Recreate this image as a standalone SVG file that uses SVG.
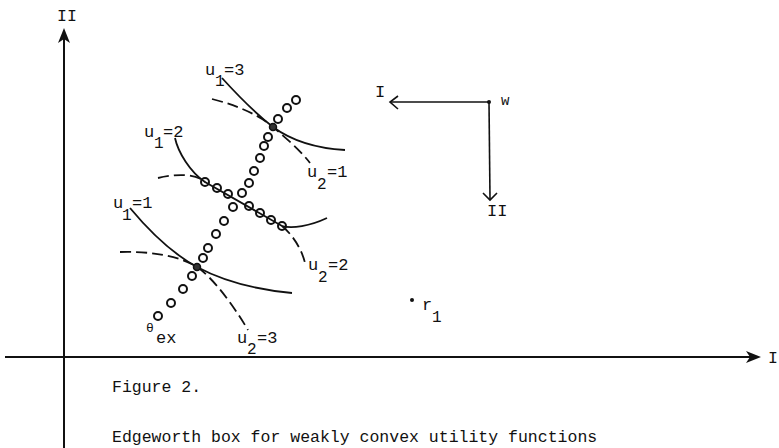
<svg xmlns="http://www.w3.org/2000/svg" width="779" height="448" viewBox="0 0 779 448">
<style>
text{font-family:"Liberation Mono","DejaVu Sans Mono",monospace;fill:#111}
.lab{font-size:17px}
.sub{font-size:16px}
.ax{stroke:#111;stroke-width:2;fill:none}
.thin{stroke:#111;stroke-width:1.6;fill:none}
.sol{stroke:#111;stroke-width:1.8;fill:none}
.dash{stroke:#111;stroke-width:1.8;fill:none;stroke-dasharray:11 5}
.c{fill:none;stroke:#111;stroke-width:2}
.tp{fill:#333;stroke:#111;stroke-width:1.5}
.cap{font-size:16.5px}
</style>
<rect width="779" height="448" fill="#fff"/>
<g id="axes">
<line class="ax" x1="64" y1="34" x2="64" y2="448"/>
<path d="M64,28 L70,43 L64,39 L58,43 Z" fill="#111"/>
<line class="ax" x1="5" y1="357" x2="754" y2="357"/>
<path d="M761,357 L746,351 L750,357 L746,363 Z" fill="#111"/>
<text x="57" y="21" class="cap">II</text>
<text x="768" y="363" class="cap">I</text>
</g>
<g id="connectors">
<path class="sol" d="M222,78 C232,89 255,113 273,127 C288,138 310,148 345,150"/>
<path class="dash" d="M212,99 C240,106 262,117 273,127 C288,140 300,150 310,163"/>
<path class="sol" d="M175,138 C178,152 190,172 205,182 L282,226 C292,229 310,226 327,218"/>
<path class="dash" d="M158,178 C175,174 195,173 205,182"/>
<path class="dash" d="M282,226 C293,235 302,250 305,263"/>
<path class="sol" d="M130,208 C150,232 175,255 197,267 C225,282 260,290 292,293"/>
<path class="dash" d="M120,252 C150,251 180,256 197,267 C212,277 232,303 248,330"/>
</g>
<g id="contract">
<circle class="c" cx="158" cy="316" r="4"/>
<circle class="c" cx="171" cy="303" r="4"/>
<circle class="c" cx="183" cy="289" r="4"/>
<circle class="c" cx="192" cy="276" r="4"/>
<circle class="c" cx="203" cy="258" r="4"/>
<circle class="c" cx="208" cy="248" r="4"/>
<circle class="c" cx="216" cy="234" r="4"/>
<circle class="c" cx="224" cy="221" r="4"/>
<circle class="c" cx="233" cy="207" r="4"/>
<circle class="c" cx="242" cy="193" r="4"/>
<circle class="c" cx="249" cy="183" r="4"/>
<circle class="c" cx="254" cy="171" r="4"/>
<circle class="c" cx="260" cy="158" r="4"/>
<circle class="c" cx="264" cy="146" r="4"/>
<circle class="c" cx="268" cy="137" r="4"/>
<circle class="c" cx="278" cy="119" r="4"/>
<circle class="c" cx="287" cy="108" r="4"/>
<circle class="c" cx="296" cy="100" r="4"/>
<circle class="c" cx="205" cy="182" r="4"/>
<circle class="c" cx="217" cy="188" r="4"/>
<circle class="c" cx="228" cy="194" r="4"/>
<circle class="c" cx="249" cy="206" r="4"/>
<circle class="c" cx="260" cy="213" r="4"/>
<circle class="c" cx="271" cy="220" r="4"/>
<circle class="c" cx="282" cy="226" r="4"/>
<circle class="tp" cx="273" cy="127" r="3.5"/>
<circle class="tp" cx="197" cy="267" r="3.5"/>
</g>
<g id="labels">
<text class="lab" x="205" y="75">u</text><text class="sub" x="215" y="86">1</text><text class="lab" x="224" y="75">=3</text>
<text class="lab" x="144" y="137">u</text><text class="sub" x="154" y="148">1</text><text class="lab" x="163" y="137">=2</text>
<text class="lab" x="113" y="208">u</text><text class="sub" x="122" y="220">1</text><text class="lab" x="132" y="208">=1</text>
<text class="lab" x="307" y="177">u</text><text class="sub" x="317" y="189">2</text><text class="lab" x="327" y="177">=1</text>
<text class="lab" x="308" y="270">u</text><text class="sub" x="318" y="282">2</text><text class="lab" x="328" y="270">=2</text>
<text class="lab" x="237" y="343">u</text><text class="sub" x="247" y="354">2</text><text class="lab" x="257" y="343">=3</text>
<text x="146" y="332" style="font-size:13px">θ</text><text class="lab" x="156" y="343">ex</text>
</g>
<g id="origin2">
<line class="thin" x1="489" y1="102" x2="391" y2="102"/>
<path class="thin" d="M398,96 L390,102 L398,109"/>
<line class="thin" x1="489" y1="102" x2="490" y2="199"/>
<path class="thin" d="M483,193 L490,200 L497,193"/>
<circle cx="489" cy="102" r="2" fill="#111"/>
<text class="lab" x="375" y="97">I</text>
<text x="501" y="105" style="font-size:14px">w</text>
<text class="lab" x="487" y="216">II</text>
</g>
<g id="r1">
<circle cx="412" cy="300" r="2" fill="#111"/>
<text class="lab" x="422" y="310">r</text><text class="sub" x="432" y="322">1</text>
</g>
<g id="caption">
<text x="112" y="392" class="cap">Figure 2.</text>
<text x="112" y="442" class="cap">Edgeworth box for weakly convex utility functions</text>
</g>
</svg>
